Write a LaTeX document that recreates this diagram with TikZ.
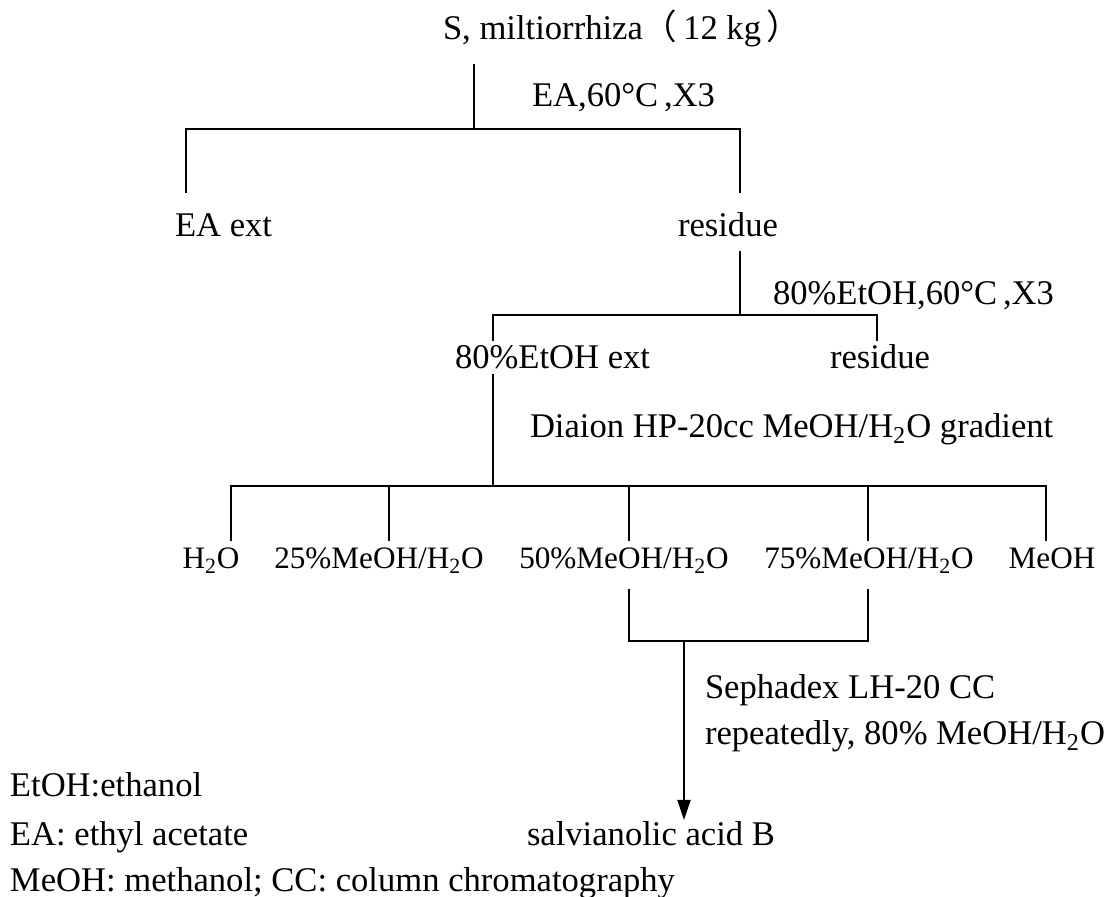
\documentclass[tikz,border=0pt]{standalone}
\usepackage{fontspec}
\setmainfont{Liberation Serif}
\newfontfamily\cjk{Noto Sans CJK SC}
\usetikzlibrary{arrows.meta}
\tikzset{
  lbl/.style={anchor=base west, inner sep=0pt, outer sep=0pt, font=\fontsize{17.3}{21}\selectfont},
  frac/.style={anchor=base, inner sep=0pt, outer sep=0pt, font=\fontsize{15.6}{19}\selectfont},
  wire/.style={line width=1pt, line cap=rect},
  arr/.style={line width=1pt, -{Triangle[length=10pt,width=6.5pt]}}
}
\begin{document}
\begin{tikzpicture}[x=0.5pt,y=-0.5pt]
\useasboundingbox (0,0) rectangle (1109,897);
% texts
\node[lbl] (src) at (443,40) {S, miltiorrhiza{\cjk （}\,12 kg\,{\cjk ）}};
\node[lbl] (c1) at (532,107) {EA,60°C\,,X3};
\node[lbl] (eaext) at (175,237) {EA ext};
\node[lbl] (res1) at (678,237) {residue};
\node[lbl] (c2) at (773,305) {80\%EtOH,60°C\,,X3};
\node[lbl] (etext) at (455,369) {80\%EtOH ext};
\node[lbl] (res2) at (830,369) {residue};
\node[lbl] (c3) at (530,438) {Diaion HP-20cc MeOH/H\textsubscript{2}O gradient};
\node[frac] (f1) at (211,569) {H\textsubscript{2}O};
\node[frac] (f2) at (379,569) {25\%MeOH/H\textsubscript{2}O};
\node[frac] (f3) at (624,569) {50\%MeOH/H\textsubscript{2}O};
\node[frac] (f4) at (869,569) {75\%MeOH/H\textsubscript{2}O};
\node[frac] (f5) at (1052,569) {MeOH};
\node[lbl] (c4a) at (705,699) {Sephadex LH-20 CC};
\node[lbl] (c4b) at (705,745) {repeatedly, 80\% MeOH/H\textsubscript{2}O};
\node[lbl] (prod) at (527,845) {salvianolic acid B};
\node[lbl] (lg1) at (10,797) {EtOH:ethanol};
\node[lbl] (lg2) at (10,845) {EA: ethyl acetate};
\node[lbl] (lg3) at (10,892) {MeOH: methanol; CC: column chromatography};
% junction coordinates
\coordinate (a0) at (474,65);
\coordinate (a1) at (474,129);
\coordinate (aL) at (186,129);
\coordinate (aR) at (740,129);
\coordinate (aLe) at (186,192);
\coordinate (aRe) at (740,192);
\coordinate (b0) at (740,252);
\coordinate (b1) at (740,315);
\coordinate (bL) at (493,315);
\coordinate (bR) at (877,315);
\coordinate (bLe) at (493,340);
\coordinate (bRe) at (877,340);
\coordinate (c0) at (493,375);
\coordinate (c1j) at (493,486);
\coordinate (cL) at (231,486);
\coordinate (cR) at (1046,486);
\foreach \i/\x in {1/231,2/389,3/629,4/868,5/1046}{
  \coordinate (t\i) at (\x,486);
  \coordinate (e\i) at (\x,540);
}
\coordinate (d3) at (629,590);
\coordinate (d4) at (868,590);
\coordinate (m3) at (629,641);
\coordinate (m4) at (868,641);
\coordinate (mj) at (684,641);
\coordinate (pe) at (684,820);
% connectors
\draw[wire] (a0) -- (a1);
\draw[wire] (aLe) -- (aL) -- (aR) -- (aRe);
\draw[wire] (b0) -- (b1);
\draw[wire] (bLe) -- (bL) -- (bR) -- (bRe);
\draw[wire] (c0) -- (c1j);
\draw[wire] (cL) -- (cR);
\foreach \i in {1,...,5}{ \draw[wire] (t\i) -- (e\i); }
\draw[wire] (d3) -- (m3) -- (m4) -- (d4);
\draw[arr] (mj) -- (pe);
\end{tikzpicture}
\end{document}
